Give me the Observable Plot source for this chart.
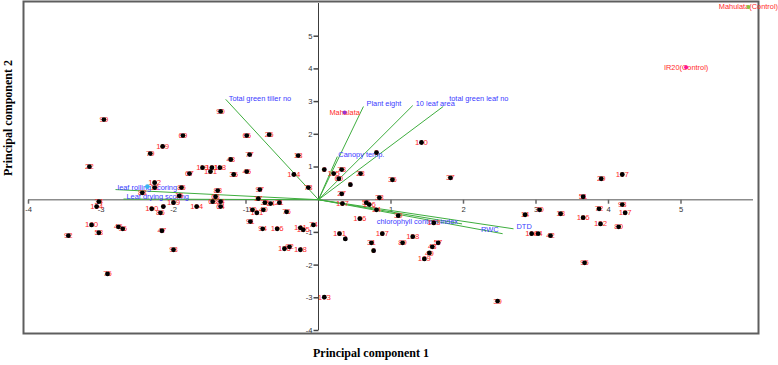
<!DOCTYPE html>
<html>
<head>
<meta charset="utf-8">
<script src="https://cdn.jsdelivr.net/npm/d3@7"></script>
<script src="https://cdn.jsdelivr.net/npm/@observablehq/plot@0.6"></script>
<style>
  html, body { margin: 0; padding: 0; background: #fff; }
  #chart svg { display: block; overflow: visible; }
</style>
</head>
<body>
<div id="chart"></div>
<script>
// PCA biplot: genotype scores on PC1/PC2 with trait loading vectors

// Genotype scores
const genotypes = ["99","90","69","66","26","109","79","77","18","22","48","67","35","45","119","101","118","121","144","78","97","83","63","68","84","64","104","102","12","88","85","15","159","34","164","100","9","86","180","58","46","96","92","47","98","75","10","131","40","17","33","54","21","76","91","94","106","141","125","74","176","82","148","8","115","73","60","5","27","28","3","36","140","37","187","56","146","38","24","30","153","166","161","4","167","128","31","6","89","57","43","49","189","173","39","51","14","70","13","186","108","44","42","95","29","197","72","93","127","132","80"];
const pc1 = [-2.96,-1.35,-1.87,-0.99,-0.68,-2.15,-2.32,-0.95,-0.28,-3.16,-1.21,-1.78,-1.17,-0.99,-1.60,-1.47,-1.36,-1.49,-0.34,-0.14,-0.81,-1.39,-1.42,-1.46,-1.35,-1.35,-1.68,-2.26,-2.26,-2.43,-1.89,-1.92,-2.00,-3.03,-3.06,-2.30,-2.14,-2.18,-3.13,-3.03,-2.76,-2.70,-3.45,-2.16,-2.00,-2.91,-0.91,-0.85,-0.76,-0.83,-0.74,-0.66,-0.54,-0.44,-0.94,-0.77,-0.57,-0.25,-0.21,-0.07,-0.47,-0.40,-0.25,0.08,0.21,0.32,0.28,0.44,0.32,0.58,0.80,1.02,1.42,1.82,0.33,0.66,0.70,0.84,0.80,1.10,1.59,0.57,0.29,0.37,0.88,1.30,0.73,0.76,1.16,1.65,1.57,1.53,1.46,0.08,2.47,3.65,2.85,3.05,3.34,3.65,2.94,3.03,3.20,3.67,3.90,4.19,3.87,4.19,4.23,3.89,4.14];
const pc2 = [2.45,2.70,1.96,1.96,1.99,1.63,1.41,1.38,1.35,1.01,1.23,0.80,0.77,0.86,0.98,0.98,0.98,0.86,0.77,0.37,0.31,0.28,0.09,-0.06,-0.06,-0.21,-0.21,0.52,0.37,0.21,0.37,0.12,-0.09,-0.06,-0.21,-0.28,-0.21,-0.40,-0.77,-1.01,-0.83,-0.89,-1.10,-0.95,-1.53,-2.27,-0.31,-0.40,-0.31,0.03,-0.09,-0.12,-0.09,-0.37,-0.67,-0.89,-0.89,-0.86,-0.92,-0.77,-1.50,-1.44,-1.53,0.92,0.80,0.92,0.64,0.46,0.18,0.80,1.44,0.61,1.75,0.67,-0.12,-0.09,-0.15,0.06,-0.31,-0.49,-0.71,-0.58,-1.04,-1.20,-1.04,-1.13,-1.32,-1.56,-1.32,-1.32,-1.44,-1.63,-1.81,-2.98,-3.10,0.09,-0.46,-0.31,-0.43,-0.55,-1.04,-1.04,-1.10,-1.93,0.64,0.77,-0.28,-0.15,-0.40,-0.74,-0.83];

// Check varieties, drawn with their own colours
const checkNames = ["Mahalata", "IR20(Control)", "Mahulata(Control)"];
const checkPc1 = [0.36, 5.07, 5.93];
const checkPc2 = [2.67, 4.05, 5.89];
const checkColors = ["#9b30d0", "#ff1493", "#8cc63f"];

// Unlabelled reference entry
const extraPc1 = [-2.36];
const extraPc2 = [0.40];

// Trait loadings
const traits = ["Total green tiller no","Plant eight","10 leaf area","total green leaf no","Canopy temp.","leaf rolling scoring","Leaf drying scoring","chlorophyll content index","DTD","RWC"];
const loading1 = [-1.28, 0.62, 1.30, 1.72, 0.26, -2.80, -2.69, 1.98, 2.69, 2.54];
const loading2 = [3.07, 2.85, 2.88, 2.85, 1.32, 0.31, 0.02, -0.74, -0.89, -1.04];

// Axis ticks
const xTicks = [-4, -3, -2, -1, 1, 2, 3, 4, 5];
const yTicks = [5, 4, 3, 2, 1, -1, -2, -3, -4];
const axisExtent = [-4, 6];

// Label placement for each trait vector (anchor, dx, dy)
const traitLabelStyle = [
  ["start", 3, -1], ["start", 3, -3], ["start", 3, -2], ["start", 6, -8],
  ["start", 1, -2], ["start", 2, -2], ["start", 3, -2], ["end", -4, -2],
  ["start", 3, -2], ["end", -4, -4]
];

const scores = genotypes.map((g, i) => ({g, x: pc1[i], y: pc2[i]}));
const checks = checkNames.map((n, i) => ({n, x: checkPc1[i], y: checkPc2[i], c: checkColors[i]}));
const extras = extraPc1.map((x, i) => ({x, y: extraPc2[i]}));
const loadings = traits.map((t, i) => ({t, x: loading1[i], y: loading2[i]}));

const sans = "'Liberation Sans', Arial, sans-serif";
const serif = "'Liberation Serif', 'Times New Roman', serif";

// Tick glyphs: short strokes hanging off the axis lines
const tickDown = {draw(ctx) { ctx.moveTo(0, 0); ctx.lineTo(0, 4); }};
const tickLeft = {draw(ctx) { ctx.moveTo(0, 0); ctx.lineTo(-5, 0); }};

const traitLabelMarks = loadings.map((d, i) => Plot.text([d], {
  x: "x", y: "y", text: "t",
  textAnchor: traitLabelStyle[i][0], dx: traitLabelStyle[i][1], dy: traitLabelStyle[i][2],
  fill: "#3a3aff", fontSize: 7.4, fontFamily: sans
}));

const chart = Plot.plot({
  width: 778,
  height: 365,
  marginLeft: 28,
  marginRight: 25,
  marginTop: 3,
  marginBottom: 35,
  x: {domain: axisExtent, axis: null},
  y: {domain: axisExtent, axis: null},
  style: {background: "#fff", fontFamily: sans, overflow: "visible"},
  marks: [
    Plot.frame({stroke: "#5e5e5e", strokeWidth: 2, insetLeft: -5, insetRight: -5, insetTop: -2, insetBottom: -3}),
    // axes through the origin
    Plot.ruleY([0], {x1: axisExtent[0], x2: axisExtent[1], stroke: "#8c8c8c", strokeWidth: 1.4}),
    Plot.ruleX([0], {y1: axisExtent[0], y2: axisExtent[1], stroke: "#3c3c3c", strokeWidth: 1}),
    Plot.dot(xTicks, {x: d => d, y: 0, symbol: tickDown, stroke: "#666", fill: "none", r: 3}),
    Plot.dot(yTicks, {x: 0, y: d => d, symbol: tickLeft, stroke: "#444", fill: "none", r: 3}),
    Plot.text(xTicks, {x: d => d, y: 0, text: d => String(d), dy: 10, fill: "#333", fontSize: 7.6, fontFamily: sans}),
    Plot.text(yTicks, {x: 0, y: d => d, text: d => String(d), textAnchor: "end", dx: -6, fill: "#333", fontSize: 7.6, fontFamily: sans}),
    // trait loading vectors
    Plot.link(loadings, {x1: 0, y1: 0, x2: "x", y2: "y", stroke: "#3fae3f", strokeWidth: 1}),
    ...traitLabelMarks,
    // genotype scores
    Plot.text(scores, {x: "x", y: "y", text: "g", fill: "#ff2a2a", fontSize: 7.8, fontFamily: sans}),
    Plot.dot(scores, {x: "x", y: "y", r: 2.4, fill: "#000"}),
    Plot.dot(extras, {x: "x", y: "y", r: 2.3, fill: "#3cb4f0"}),
    Plot.text(checks, {x: "x", y: "y", text: "n", fill: "#ff2a2a", fontSize: 7.4, fontFamily: sans}),
    Plot.dot(checks, {x: "x", y: "y", r: 2, fill: "c"}),
    // axis titles
    Plot.text(["Principal component 1"], {frameAnchor: "bottom", dx: -20, dy: 26, fontFamily: serif, fontWeight: "bold", fontSize: 12, fill: "#000"}),
    Plot.text(["Principal component 2"], {frameAnchor: "left", rotate: -90, dx: -20, dy: 9, fontFamily: serif, fontWeight: "bold", fontSize: 12, fill: "#000"})
  ]
});

document.getElementById("chart").appendChild(chart);
</script>
</body>
</html>
